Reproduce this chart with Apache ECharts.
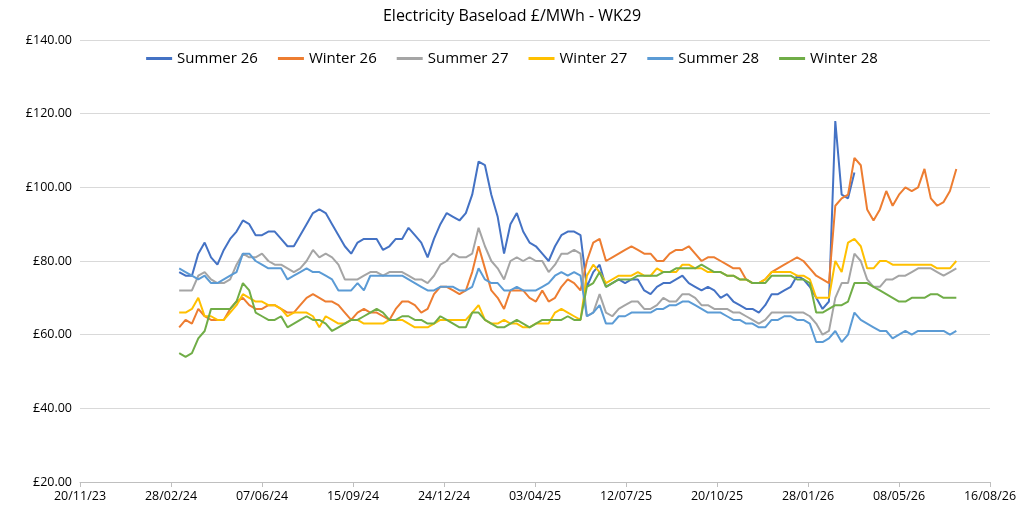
<!DOCTYPE html>
<html>
<head>
<meta charset="utf-8">
<script src="https://cdn.jsdelivr.net/npm/echarts@6/dist/echarts.min.js"></script>
<style>html,body{margin:0;padding:0;background:#fff}#main{width:1024px;height:514px}</style>
</head>
<body>
<div id="main"></div>
<script>
// weekly prices, first week 08/03/2024
var firstDay = Date.UTC(2024, 2, 8);
var axisStart = Date.UTC(2023, 10, 20);
var DAY = 86400000;

var summer26 = [77,76,76,82,85,81,79,83,86,88,91,90,87,87,88,88,86,84,84,87,90,93,94,93,90,87,84,82,85,86,
  86,86,83,84,86,86,89,87,85,81,86,90,93,92,91,93,98,107,106,98,92,82,90,93,88,85,84,82,80,84,
  87,88,88,87,73,77,79,73,74,75,74,75,75,72,71,73,74,74,75,76,74,73,72,73,72,70,71,69,68,67,
  67,66,68,71,71,72,73,76,75,73,70,67,69,118,98,97,104];
var winter26 = [62,64,63,67,65,64,64,64,67,69,70,68,67,67,68,68,67,66,66,68,70,71,70,69,69,68,66,64,66,67,
  66,66,65,64,67,69,69,68,66,67,71,73,73,72,71,72,77,84,78,72,70,67,72,72,72,70,69,72,69,70,
  73,75,74,72,80,85,86,80,81,82,83,84,83,82,82,80,80,82,83,83,84,82,80,81,81,80,79,78,78,75,
  74,74,75,77,78,79,80,81,80,78,76,75,74,95,97,98,108,106,94,91,94,99,95,98,100,99,100,105,97,95,
  96,99,105];
var summer27 = [72,72,72,76,77,75,74,74,75,79,82,81,81,82,80,79,79,78,77,78,80,83,81,82,81,79,75,75,75,76,
  77,77,76,77,77,77,76,75,75,74,76,79,80,82,81,81,82,89,84,80,78,75,80,81,80,81,80,80,77,79,
  82,82,83,82,65,66,71,66,65,67,68,69,69,67,67,68,70,69,69,71,71,70,68,68,67,67,67,66,66,65,
  64,63,64,66,66,66,66,66,66,65,63,60,61,70,74,74,82,80,75,73,73,75,75,76,76,77,78,78,78,77,
  76,77,78];
var winter27 = [66,66,67,70,65,65,64,64,66,68,71,70,69,69,68,68,67,65,66,66,66,65,62,65,64,63,63,64,64,63,
  63,63,63,64,64,64,63,62,62,62,63,64,64,64,64,64,66,68,64,63,63,64,63,63,62,62,63,63,63,66,
  67,66,65,64,76,79,77,74,75,76,76,76,77,76,76,78,77,77,77,79,79,78,78,77,77,77,76,76,75,75,
  74,74,75,77,77,77,77,76,76,75,70,70,70,80,77,85,86,84,78,78,80,80,79,79,79,79,79,79,79,78,
  78,78,80];
var summer28 = [78,77,76,75,76,74,74,75,76,77,82,82,80,79,78,78,78,75,76,77,78,77,77,76,75,72,72,72,74,72,
  76,76,76,76,76,76,75,74,73,72,72,73,73,73,72,72,73,78,75,74,74,72,72,73,72,72,72,73,74,76,
  77,76,77,76,65,66,68,63,63,65,65,66,66,66,66,67,67,68,68,69,69,68,67,66,66,66,65,64,64,63,
  63,62,62,64,64,65,65,64,64,63,58,58,59,61,58,60,66,64,63,62,61,61,59,60,61,60,61,61,61,61,
  61,60,61];
var winter28 = [55,54,55,59,61,67,67,67,67,69,74,72,66,65,64,64,65,62,63,64,65,64,64,63,61,62,63,64,64,65,
  66,67,66,64,64,65,65,64,64,63,63,65,64,63,62,62,66,66,64,63,62,62,63,64,63,62,63,64,64,64,
  64,65,64,64,73,74,77,73,74,75,75,75,76,76,76,76,77,77,78,78,78,78,79,78,77,77,76,76,75,75,
  74,74,74,76,76,76,76,75,75,74,66,66,67,68,68,69,74,74,74,73,72,71,70,69,69,70,70,70,71,71,
  70,70,70];

var names = ['Summer 26', 'Winter 26', 'Summer 27', 'Winter 27', 'Summer 28', 'Winter 28'];
var colors = ['#4472C4', '#ED7D31', '#A5A5A5', '#FFC000', '#5B9BD5', '#70AD47'];
var all = [summer26, winter26, summer27, winter27, summer28, winter28];

// x in days since 20/11/23
function pairs(vals) {
  return vals.map(function (v, i) {
    return [(firstDay - axisStart) / DAY + i * 7, v];
  });
}
function pad(n) { return (n < 10 ? '0' : '') + n; }

var chart = echarts.init(document.getElementById('main'));
chart.setOption({
  animation: false,
  title: {
    text: 'Electricity Baseload £/MWh - WK29',
    left: 'center', top: 3,
    textStyle: { fontFamily: 'Open Sans', fontSize: 16, fontWeight: 'normal', color: '#000' }
  },
  legend: {
    data: names, top: 46, left: 'center', itemGap: 20, itemWidth: 26, itemHeight: 3,
    icon: 'rect',
    textStyle: { fontFamily: 'Open Sans', fontSize: 15, color: '#000' }
  },
  grid: { left: 80, right: 34, top: 40, bottom: 32 },
  xAxis: {
    type: 'value', min: 0, max: 1000, interval: 100,
    splitLine: { show: false },
    axisLine: { lineStyle: { color: '#bfbfbf' } },
    axisTick: { show: true, lineStyle: { color: '#bfbfbf' } },
    axisLabel: {
      fontFamily: 'Open Sans', fontSize: 12.5, color: '#000',
      formatter: function (v) {
        var d = new Date(axisStart + v * DAY);
        return pad(d.getUTCDate()) + '/' + pad(d.getUTCMonth() + 1) + '/' + pad(d.getUTCFullYear() % 100);
      }
    }
  },
  yAxis: {
    type: 'value', min: 20, max: 140, interval: 20,
    axisLine: { show: false }, axisTick: { show: false },
    splitLine: { lineStyle: { color: '#d9d9d9', width: 1 } },
    axisLabel: {
      fontFamily: 'Open Sans', fontSize: 12.5, color: '#000',
      formatter: function (v) { return '£' + v.toFixed(2); }
    }
  },
  series: all.map(function (vals, k) {
    return {
      name: names[k], type: 'line', data: pairs(vals), showSymbol: false,
      lineStyle: { width: 2, color: colors[k] }, itemStyle: { color: colors[k] }
    };
  })
});
</script>
</body>
</html>
